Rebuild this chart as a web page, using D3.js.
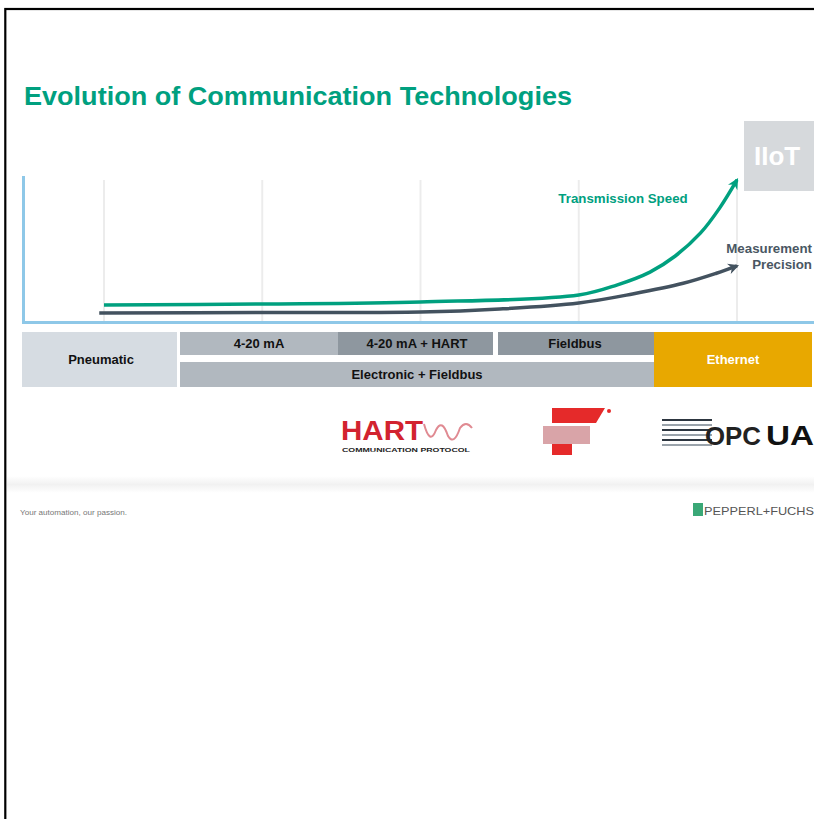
<!DOCTYPE html>
<html>
<head>
<meta charset="utf-8">
<script src="https://cdn.jsdelivr.net/npm/d3@7"></script>
<style>
	html, body { margin: 0; padding: 0; background: #fff; }
	svg { display: block; font-family: 'Liberation Sans', Arial, sans-serif; }
</style>
</head>
<body>
<svg id="slide" width="814" height="819"></svg>
<script>
'use strict'

// eras along the time axis
const eras = ['Pneumatic', '4-20 mA', '4-20 mA + HART', 'Fieldbus', 'Ethernet']

// technology bands below the chart (start era .. end era)
const bandLabels = ['Pneumatic', '4-20 mA', '4-20 mA + HART', 'Fieldbus', 'Electronic + Fieldbus', 'Ethernet']
const bandStart = ['Pneumatic', '4-20 mA', '4-20 mA + HART', 'Fieldbus', '4-20 mA', 'Ethernet']
const bandEnd = ['Pneumatic', '4-20 mA', '4-20 mA + HART', 'Fieldbus', 'Fieldbus', 'Ethernet']
const bandRow = ['full', 'top', 'top', 'top', 'bottom', 'full']

// curves, x in era index, y in relative level 0..100
const speedX = [0, 1, 2, 3, 3.24, 3.45, 3.61, 3.77, 3.89, 4]
const speedY = [11.6, 12.3, 13.7, 18.5, 25.3, 34.2, 45.2, 61, 78, 97.3]
const precisionX = [-0.03, 1, 2, 2.5, 3, 3.34, 3.66, 3.87, 4]
const precisionY = [6.2, 6.5, 6.8, 8.9, 13, 19.2, 26.5, 33.4, 38.4]

const colors = {
	green: '#00a07f',
	dark: '#43525f',
	axis: '#8ec8e8',
	grid: '#ececec',
	pneumatic: '#d6dce2',
	light: '#b1b8bf',
	mid: '#8e979f',
	ethernet: '#e8a800'
}
const bandFill = [colors.pneumatic, colors.light, colors.mid, colors.mid, colors.light, colors.ethernet]
const bandText = ['#111', '#111', '#111', '#111', '#111', '#fff']

const svg = d3.select('#slide')

// slide frame
svg.append('rect')
	.attr('x', 5.3)
	.attr('y', 9)
	.attr('width', 900)
	.attr('height', 900)
	.attr('fill', 'none')
	.attr('stroke', '#000')
	.attr('stroke-width', 2.2)

svg.append('text')
	.attr('x', 24)
	.attr('y', 105)
	.attr('font-size', 25.5)
	.attr('font-weight', 'bold')
	.attr('fill', colors.green)
	.attr('textLength', 548)
	.attr('lengthAdjust', 'spacingAndGlyphs')
	.text('Evolution of Communication Technologies')

const x = d3.scaleLinear().domain([0, 4]).range([104, 737])
const y = d3.scaleLinear().domain([0, 100]).range([322, 176])
const band = d3.scaleBand().domain(eras).range([22, 812])

// grid
svg.append('g')
	.selectAll('line')
	.data(d3.range(eras.length))
	.join('line')
	.attr('x1', (d) => x(d))
	.attr('x2', (d) => x(d))
	.attr('y1', 180)
	.attr('y2', y(0))
	.attr('stroke', colors.grid)
	.attr('stroke-width', 2)

// axes
svg.append('line')
	.attr('x1', 23.5).attr('x2', 23.5)
	.attr('y1', 176).attr('y2', y(0) + 1.5)
	.attr('stroke', colors.axis)
	.attr('stroke-width', 3)
svg.append('line')
	.attr('x1', 22).attr('x2', 814)
	.attr('y1', y(0) + 0.5).attr('y2', y(0) + 0.5)
	.attr('stroke', colors.axis)
	.attr('stroke-width', 3)

// IIoT box
svg.append('rect')
	.attr('x', 744).attr('y', 121)
	.attr('width', 80).attr('height', 70)
	.attr('fill', '#d6d9dc')
svg.append('text')
	.attr('x', 754)
	.attr('y', 165)
	.attr('font-size', 26)
	.attr('font-weight', 'bold')
	.attr('fill', '#fff')
	.text('IIoT')

// arrow markers
const defs = svg.append('defs')
;[['speed', colors.green], ['precision', colors.dark]].forEach(([id, c]) => {
	defs.append('marker')
		.attr('id', `arrow-${id}`)
		.attr('viewBox', '0 0 12 12')
		.attr('refX', 9)
		.attr('refY', 6)
		.attr('markerWidth', 13)
		.attr('markerHeight', 13)
		.attr('markerUnits', 'userSpaceOnUse')
		.attr('orient', 'auto')
		.append('path')
		.attr('d', 'M1,1 L11,6 L1,11 L4,6 Z')
		.attr('fill', c)
})

const line = d3.line()
	.x((d) => x(d[0]))
	.y((d) => y(d[1]))
	.curve(d3.curveCatmullRom.alpha(0.5))

svg.append('path')
	.datum(d3.zip(precisionX, precisionY))
	.attr('d', line)
	.attr('fill', 'none')
	.attr('stroke', colors.dark)
	.attr('stroke-width', 3.5)
	.attr('marker-end', 'url(#arrow-precision)')

svg.append('path')
	.datum(d3.zip(speedX, speedY))
	.attr('d', line)
	.attr('fill', 'none')
	.attr('stroke', colors.green)
	.attr('stroke-width', 3.5)
	.attr('marker-end', 'url(#arrow-speed)')

svg.append('text')
	.attr('x', 623)
	.attr('y', 203)
	.attr('text-anchor', 'middle')
	.attr('font-size', 13.3)
	.attr('font-weight', 'bold')
	.attr('fill', colors.green)
	.text('Transmission Speed')

svg.append('text')
	.attr('text-anchor', 'end')
	.attr('font-size', 13.3)
	.attr('font-weight', 'bold')
	.attr('fill', '#4a5763')
	.selectAll('tspan')
	.data(['Measurement', 'Precision'])
	.join('tspan')
	.attr('x', 812)
	.attr('y', (d, i) => 253 + i * 16)
	.text((d) => d)

// technology bands
const rowTop = { full: 332, top: 332, bottom: 362 }
const rowBottom = { full: 387, top: 355, bottom: 387 }
const gapAfter = ['Pneumatic', '4-20 mA + HART']

const bands = svg.append('g')
	.selectAll('g')
	.data(bandLabels.map((label, i) => ({ label, i })))
	.join('g')

bands.append('rect')
	.attr('x', (d) => band(bandStart[d.i]) + (bandStart[d.i] === 'Fieldbus' ? 2 : 0))
	.attr('y', (d) => rowTop[bandRow[d.i]])
	.attr('width', (d) => {
		const x0 = band(bandStart[d.i]) + (bandStart[d.i] === 'Fieldbus' ? 2 : 0)
		let x1 = band(bandEnd[d.i]) + band.bandwidth()
		if (gapAfter.includes(bandEnd[d.i]))
			x1 -= 3
		return x1 - x0
	})
	.attr('height', (d) => rowBottom[bandRow[d.i]] - rowTop[bandRow[d.i]])
	.attr('fill', (d) => bandFill[d.i])

bands.append('text')
	.attr('x', (d) => (band(bandStart[d.i]) + band(bandEnd[d.i]) + band.bandwidth()) / 2)
	.attr('y', (d) => (rowTop[bandRow[d.i]] + rowBottom[bandRow[d.i]]) / 2 + 4.5)
	.attr('text-anchor', 'middle')
	.attr('font-size', 13)
	.attr('font-weight', 'bold')
	.attr('fill', (d) => bandText[d.i])
	.text((d) => d.label)

// logos (rough)
const hart = svg.append('g')
hart.append('text')
	.attr('x', 341)
	.attr('y', 440)
	.attr('font-size', 27)
	.attr('font-weight', 'bold')
	.attr('fill', '#d2232f')
	.attr('textLength', 82)
	.attr('lengthAdjust', 'spacingAndGlyphs')
	.text('HART')
hart.append('path')
	.attr('d', 'M424,424 Q430,446 436,430 Q442,418 448,436 Q454,446 460,428 Q466,420 472,428')
	.attr('fill', 'none')
	.attr('stroke', '#e08a92')
	.attr('stroke-width', 2)
hart.append('text')
	.attr('x', 342)
	.attr('y', 452)
	.attr('font-size', 6)
	.attr('font-weight', 'bold')
	.attr('fill', '#222')
	.attr('textLength', 128)
	.attr('lengthAdjust', 'spacingAndGlyphs')
	.text('COMMUNICATION PROTOCOL')

const ff = svg.append('g')
ff.append('path')
	.attr('d', 'M552,408 L605,408 L596,423 L552,423 Z')
	.attr('fill', '#e52a2a')
ff.append('rect')
	.attr('x', 543).attr('y', 426)
	.attr('width', 47).attr('height', 18)
	.attr('fill', '#d9a4a8')
ff.append('rect')
	.attr('x', 552).attr('y', 444)
	.attr('width', 20).attr('height', 11)
	.attr('fill', '#e52a2a')
ff.append('circle')
	.attr('cx', 609).attr('cy', 411).attr('r', 2)
	.attr('fill', '#e52a2a')

const opc = svg.append('g')
opc.selectAll('line')
	.data([420, 425, 430, 435, 440, 445])
	.join('line')
	.attr('x1', 662).attr('x2', 712)
	.attr('y1', (d) => d).attr('y2', (d) => d)
	.attr('stroke', (d, i) => i % 2 ? '#9aa3ab' : '#2d3640')
	.attr('stroke-width', 2)
opc.append('text')
	.attr('x', 705)
	.attr('y', 445)
	.attr('font-size', 26)
	.attr('font-weight', 'bold')
	.attr('fill', '#222')
	.attr('textLength', 56)
	.attr('lengthAdjust', 'spacingAndGlyphs')
	.text('OPC')
opc.append('text')
	.attr('x', 766)
	.attr('y', 445)
	.attr('font-size', 28)
	.attr('font-weight', 'bold')
	.attr('fill', '#111')
	.attr('textLength', 48)
	.attr('lengthAdjust', 'spacingAndGlyphs')
	.text('UA')

// footer
const grad = defs.append('linearGradient')
	.attr('id', 'footerFade')
	.attr('x1', 0).attr('x2', 0).attr('y1', 0).attr('y2', 1)
grad.append('stop').attr('offset', 0).attr('stop-color', '#ffffff')
grad.append('stop').attr('offset', 0.5).attr('stop-color', '#f1f1f1')
grad.append('stop').attr('offset', 1).attr('stop-color', '#ffffff')
svg.append('rect')
	.attr('x', 7).attr('y', 476)
	.attr('width', 807).attr('height', 17)
	.attr('fill', 'url(#footerFade)')

svg.append('text')
	.attr('x', 20)
	.attr('y', 515)
	.attr('font-size', 6.5)
	.attr('fill', '#777')
	.attr('textLength', 107)
	.attr('lengthAdjust', 'spacingAndGlyphs')
	.text('Your automation, our passion.')

svg.append('rect')
	.attr('x', 693).attr('y', 503)
	.attr('width', 10).attr('height', 13)
	.attr('fill', '#3aa877')
svg.append('text')
	.attr('x', 704)
	.attr('y', 515)
	.attr('font-size', 11)
	.attr('fill', '#555')
	.attr('textLength', 110)
	.attr('lengthAdjust', 'spacingAndGlyphs')
	.text('PEPPERL+FUCHS')
</script>
</body>
</html>
